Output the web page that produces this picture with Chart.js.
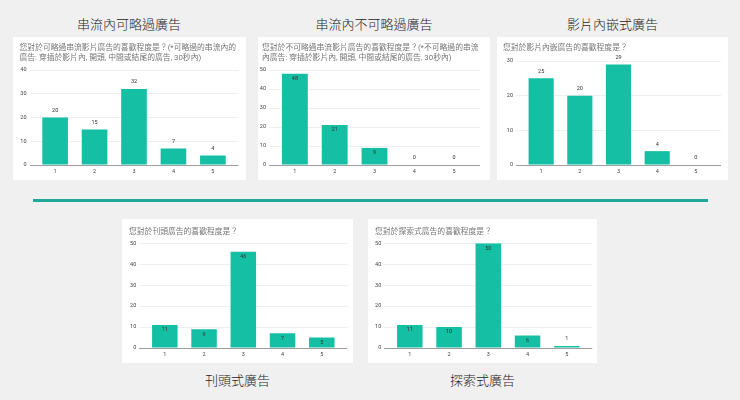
<!DOCTYPE html>
<html lang="zh-Hant">
<head>
<meta charset="utf-8">
<title>廣告喜歡程度調查</title>
<script src="https://cdn.jsdelivr.net/npm/chart.js@4.4.0/dist/chart.umd.min.js"></script>
<style>
  html, body { margin: 0; padding: 0; }
  body {
    width: 740px; height: 400px; position: relative; overflow: hidden;
    background: #f1f0f0;
    font-family: "Noto Sans CJK TC", "Noto Sans", sans-serif;
  }
  .heading {
    position: absolute; text-align: center; white-space: nowrap;
    font-size: 13px; line-height: 18px; color: #262626; font-weight: 300;
  }
  .card { position: absolute; background: #fff; }
  .card canvas { position: absolute; left: 0; top: 0; }
  .question {
    position: absolute; white-space: nowrap;
    font-family: Roboto, "Noto Sans CJK TC", sans-serif;
    font-size: 7.8px; line-height: 10px; color: #757575;
  }
  .divider {
    position: absolute; left: 33px; top: 199px; width: 675px; height: 2.5px;
    background: #1ea99b;
  }
</style>
</head>
<body>
  <div class="heading" style="left:12.5px; top:15px; width:233px;">串流內可略過廣告</div>
  <div class="heading" style="left:258px; top:15px; width:232px;">串流內不可略過廣告</div>
  <div class="heading" style="left:497px; top:15px; width:231px;">影片內嵌式廣告</div>

  <div class="card" style="left:12.5px; top:37px; width:233px; height:143px;">
    <canvas id="skippable"></canvas><div class="question" id="q0" style="left:7px; top:6px;"></div>
  </div>
  <div class="card" style="left:258px; top:37px; width:232px; height:143px;">
    <canvas id="nonSkippable"></canvas><div class="question" id="q1" style="left:4px; top:6px;"></div>
  </div>
  <div class="card" style="left:497px; top:37px; width:231px; height:143px;">
    <canvas id="inVideo"></canvas><div class="question" id="q2" style="left:6px; top:6px;"></div>
  </div>

  <div class="divider"></div>

  <div class="card" style="left:122px; top:219px; width:231px; height:144px;">
    <canvas id="banner"></canvas><div class="question" id="q3" style="left:7px; top:8px;"></div>
  </div>
  <div class="card" style="left:368px; top:219px; width:229px; height:144px;">
    <canvas id="discovery"></canvas><div class="question" id="q4" style="left:7px; top:8px;"></div>
  </div>

  <div class="heading" style="left:122px; top:371px; width:231px;">刊頭式廣告</div>
  <div class="heading" style="left:368px; top:371px; width:229px;">探索式廣告</div>

<script>
// Rating scale shared by every question (1 = dislike ... 5 = like)
const categories = ["1", "2", "3", "4", "5"];

// Number of answers per rating
const skippableValues = [20, 15, 32, 7, 4];
const nonSkippableValues = [48, 21, 9, 0, 0];
const inVideoValues = [25, 20, 29, 4, 0];
const bannerValues = [11, 9, 46, 7, 5];
const discoveryValues = [11, 10, 50, 6, 1];

// Top tick of each value axis (ticks every 10)
const axisMaxima = [40, 50, 30, 50, 50];
const tickStep = 10;

// Question shown at the top of each card
const questions = [
  ["您對於可略過串流影片廣告的喜歡程度是？(*可略過的串流內的", "廣告: 穿插於影片內, 開頭, 中間或結尾的廣告, 30秒內)"],
  ["您對於不可略過串流影片廣告的喜歡程度是？(*不可略過的串流", "內廣告: 穿插於影片內, 開頭, 中間或結尾的廣告, 30秒內)"],
  ["您對於影片內嵌廣告的喜歡程度是？"],
  ["您對於刊頭廣告的喜歡程度是？"],
  ["您對於探索式廣告的喜歡程度是？"],
];

(function () {
  const BAR_COLOR = "#15bfa4";
  const FONT = 'Roboto, "Noto Sans CJK TC", sans-serif';

  // Draws the count above each bar, or just inside the top of it when asked
  const valueLabels = {
    id: "valueLabels",
    afterDatasetsDraw(chart, args, opts) {
      const { ctx } = chart;
      const meta = chart.getDatasetMeta(0);
      const values = chart.data.datasets[0].data;
      ctx.save();
      ctx.font = "5.5px " + FONT;
      ctx.fillStyle = "#333";
      ctx.textAlign = "center";
      ctx.textBaseline = "middle";
      meta.data.forEach((bar, i) => {
        const tall = bar.base - bar.y > 8;
        const y = opts.inside && tall ? bar.y + 5 : bar.y - 7;
        ctx.fillText(String(values[i]), bar.x, y);
      });
      ctx.restore();
    },
  };

  // layout: plot-area offsets inside the card, so the charts line up with the slide
  function makeChart(id, values, index, layout) {
    questions[index].forEach((line, i) => {
      const q = document.getElementById("q" + index);
      if (i > 0) q.appendChild(document.createElement("br"));
      q.appendChild(document.createTextNode(line));
    });
    const ctx = document.getElementById(id).getContext("2d");
    return new Chart(ctx, {
      type: "bar",
      data: {
        labels: categories,
        datasets: [{ data: values, backgroundColor: BAR_COLOR, borderWidth: 0 }],
      },
      plugins: [valueLabels],
      options: {
        responsive: true,
        maintainAspectRatio: false,
        animation: false,
        events: [],
        layout: { padding: { left: 0, right: layout.right, top: layout.top, bottom: 0 } },
        datasets: { bar: { categoryPercentage: 1, barPercentage: 0.65 } },
        plugins: {
          legend: { display: false },
          tooltip: { enabled: false },
          valueLabels: { inside: layout.inside },
        },
        scales: {
          x: {
            type: "linear",
            offset: false,
            min: 0.35,
            max: 5.65,
            afterBuildTicks: (s) => {
              s.ticks = categories.map((c) => ({ value: Number(c) }));
            },
            afterFit: (s) => { s.height = 15; },
            grid: { display: false, drawTicks: false, offset: false },
            border: { display: false },
            ticks: {
              color: "#444",
              font: { family: FONT, size: 5.5 },
              padding: 3,
              maxRotation: 0,
              callback: (v, i) => categories[i],
            },
          },
          y: {
            min: 0,
            max: axisMaxima[index],
            afterFit: (s) => { s.width = layout.yWidth; },
            border: { display: false },
            grid: {
              drawTicks: false,
              color: (c) => (c.tick && c.tick.value === 0 ? "#9e9e9e" : "#ebebeb"),
              lineWidth: (c) => (c.tick && c.tick.value === 0 ? 1 : 0.8),
            },
            ticks: {
              stepSize: tickStep,
              color: "#444",
              font: { family: FONT, size: 5.5 },
              padding: 3,
            },
          },
        },
      },
    });
  }

  makeChart("skippable", skippableValues, 0, { top: 33, right: 7.5, yWidth: 16.5, inside: false });
  makeChart("nonSkippable", nonSkippableValues, 1, { top: 33, right: 10, yWidth: 11, inside: true });
  makeChart("inVideo", inVideoValues, 2, { top: 24, right: 7, yWidth: 19, inside: false });
  makeChart("banner", bannerValues, 3, { top: 24.3, right: 5.7, yWidth: 17.3, inside: true });
  makeChart("discovery", discoveryValues, 4, { top: 24.3, right: 4.7, yWidth: 16.3, inside: true });
})();
</script>
</body>
</html>
